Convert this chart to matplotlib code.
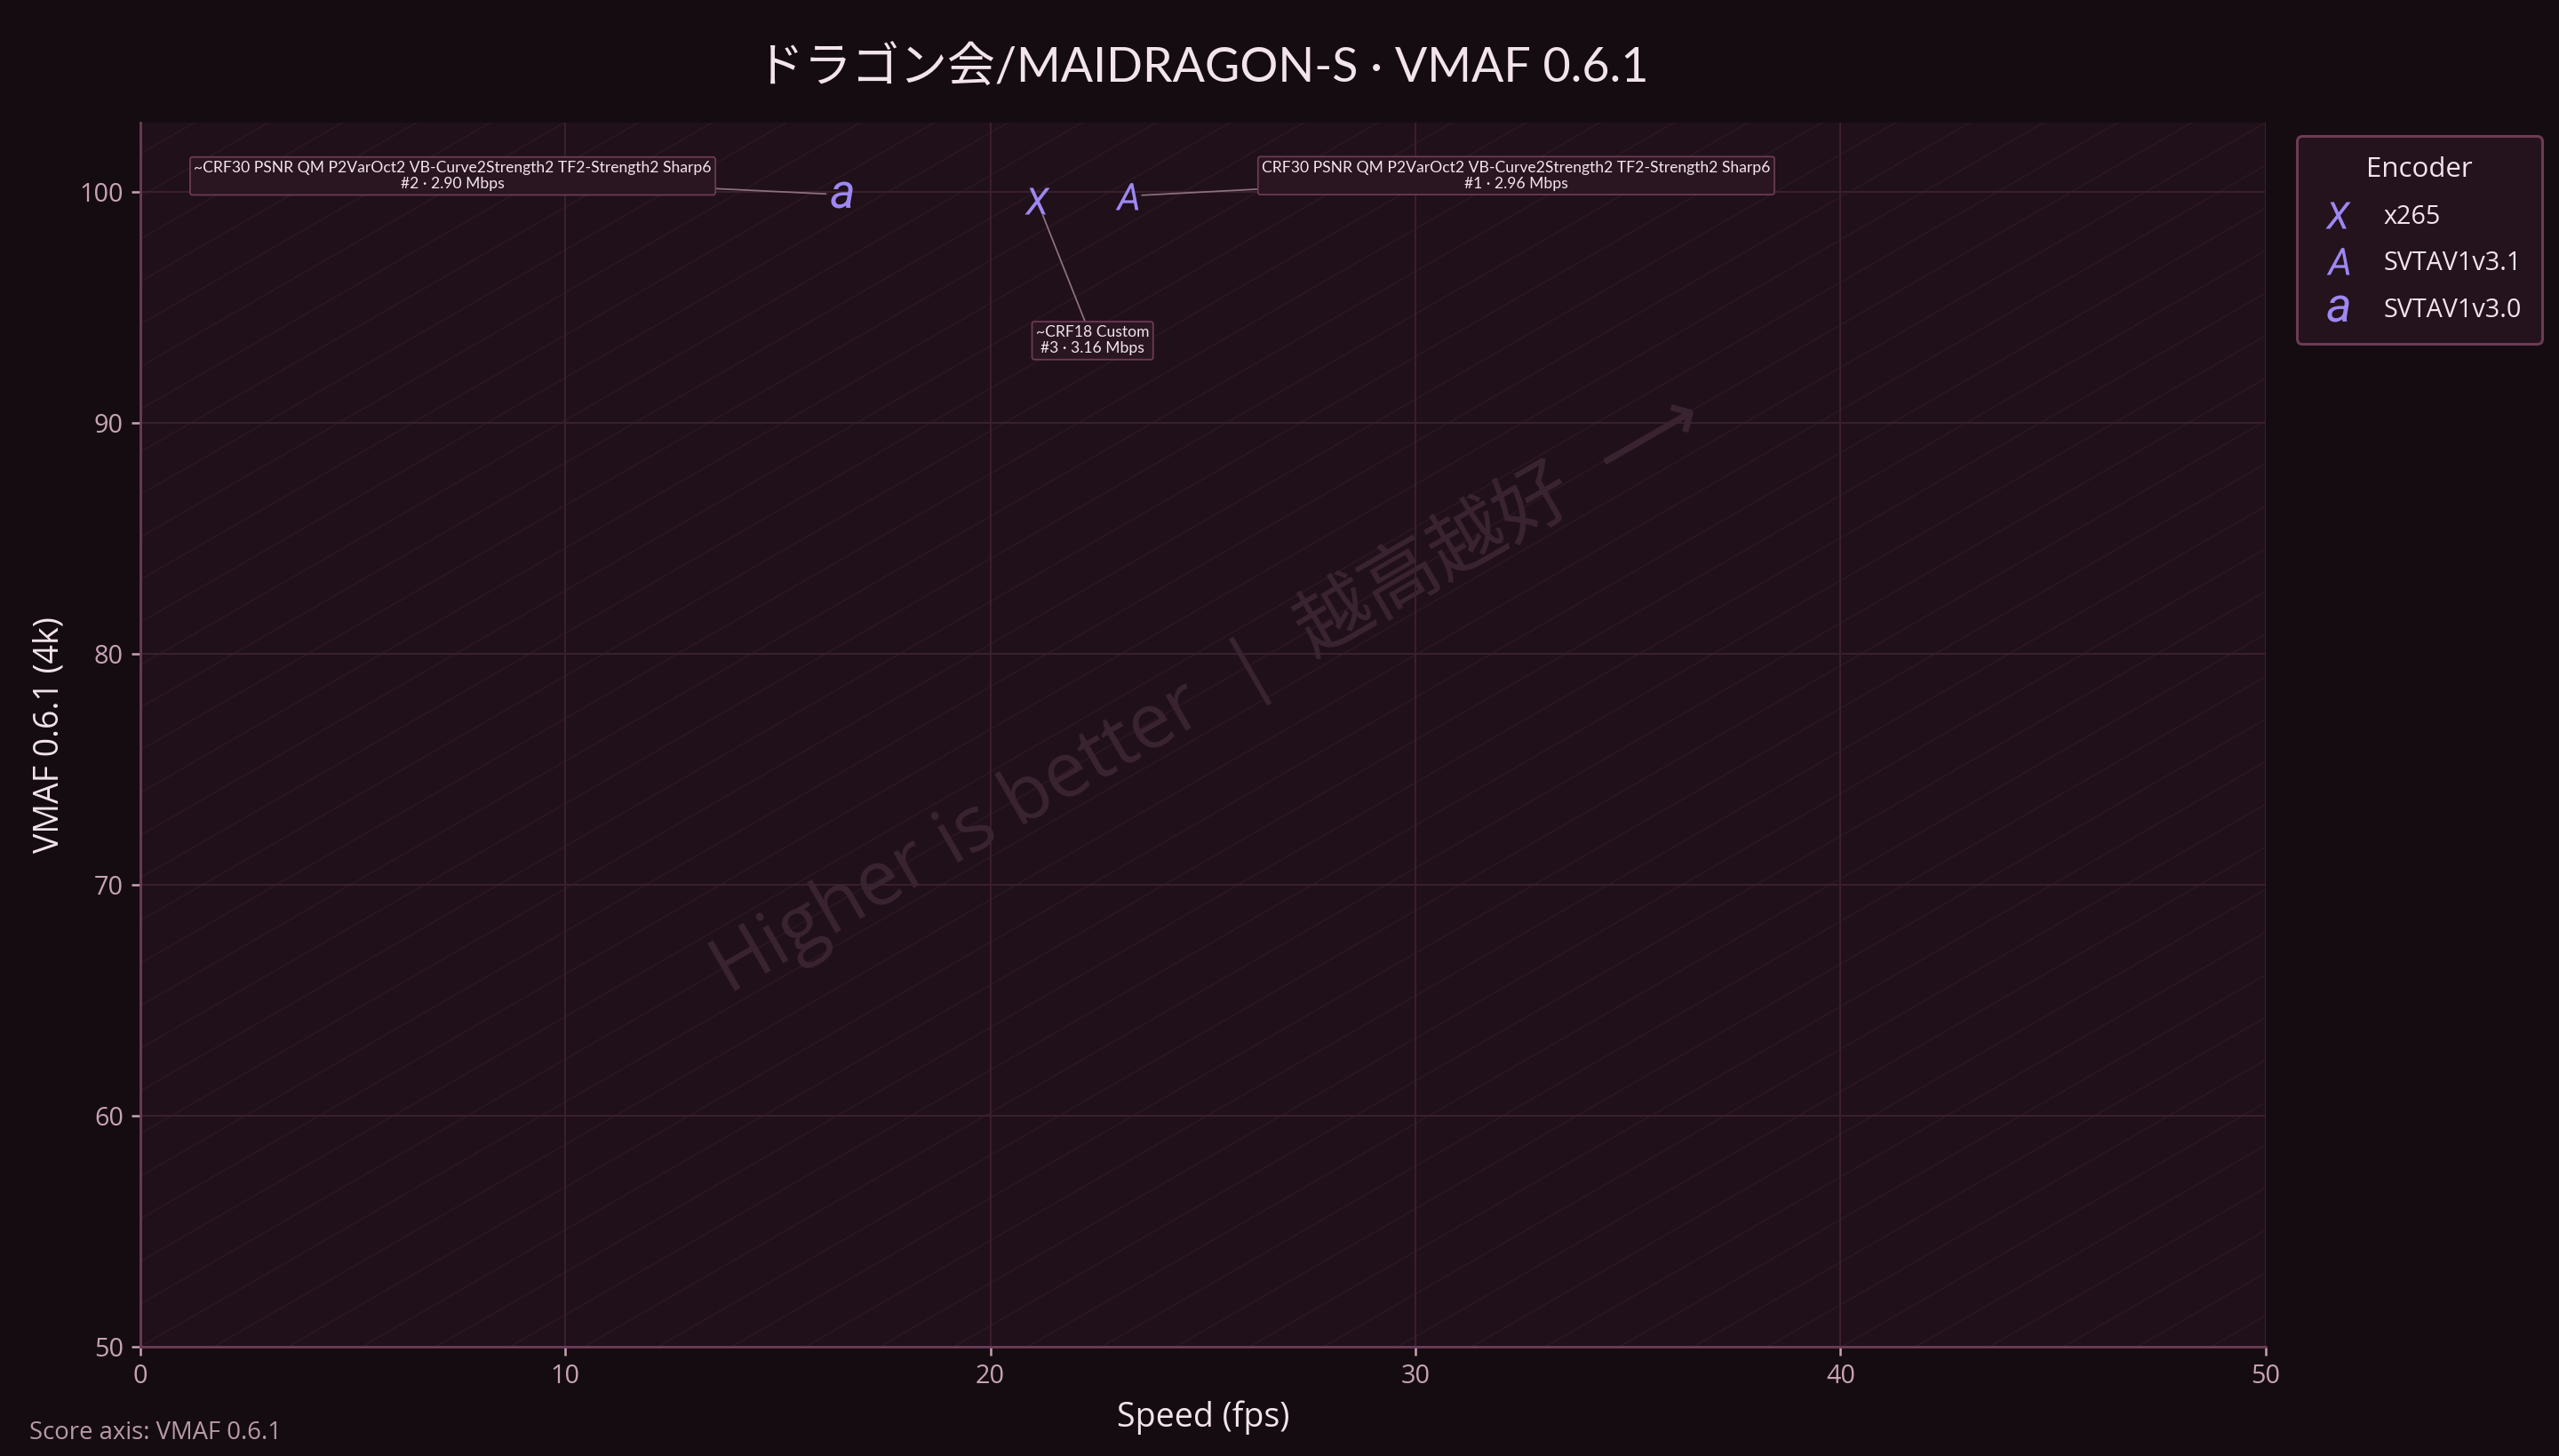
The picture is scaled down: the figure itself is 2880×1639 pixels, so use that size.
import numpy as np
import matplotlib.pyplot as plt

# data
encoders = ['x265', 'SVTAV1v3.1', 'SVTAV1v3.0']
marker_glyphs = ['$X$', '$A$', '$a$']
speed_fps = [21.1, 23.2, 16.5]
vmaf_4k = [99.62, 99.82, 99.88]
presets = ['~CRF18 Custom',
           'CRF30 PSNR QM P2VarOct2 VB-Curve2Strength2 TF2-Strength2 Sharp6',
           '~CRF30 PSNR QM P2VarOct2 VB-Curve2Strength2 TF2-Strength2 Sharp6']
ranks = [3, 1, 2]
bitrate_mbps = [3.16, 2.96, 2.90]
x_ticks = [0, 10, 20, 30, 40, 50]
y_ticks = [50, 60, 70, 80, 90, 100]

# where each label box sits, in points from its point
label_offsets = [(25, -63), (175.5, 9.2), (-175, 8.4)]

BG = '#150c11'
AX_BG = '#201019'
MARK = '#9d88f2'
TEXT = '#f3e4ec'
TICK = '#c7a3b4'
EDGE = '#6d3b55'

plt.rcParams['font.family'] = ['Open Sans', 'Noto Sans CJK JP', 'DejaVu Sans']
plt.rcParams['mathtext.fontset'] = 'custom'
plt.rcParams['mathtext.it'] = 'Roboto:italic'
narrow = ['Lato', 'Noto Sans CJK JP', 'DejaVu Sans']

fig = plt.figure(figsize=(16, 1639 / 180), dpi=180, facecolor=BG)
ax = fig.add_axes([0.0547, 0.0750, 0.8307, 0.8408])
ax.set_facecolor(AX_BG)

# faint diagonal hatching
for c in np.arange(-29, 30) * 0.0348:
    ax.plot([0, 1], [c, c + 1], transform=ax.transAxes, color='#2b1622',
            lw=0.7, zorder=0)

ax.grid(True, color='#3a1f2e', lw=0.8, zorder=0.5)
ax.set_axisbelow(True)

ax.text(0.502, 0.535, 'Higher is better  |  越高越好  ⟶', transform=ax.transAxes,
        rotation=30, ha='center', va='center', fontsize=34.5, color='#3a2431',
        family=['Open Sans', 'Noto Sans CJK SC', 'DejaVu Sans'], zorder=0.6)

for i in range(len(encoders)):
    ax.plot(speed_fps[i], vmaf_4k[i], linestyle='none', marker=marker_glyphs[i],
            markersize=12, markeredgewidth=0, color=MARK, label=encoders[i],
            zorder=3)
    ax.annotate(f'{presets[i]}\n#{ranks[i]} · {bitrate_mbps[i]:.2f} Mbps',
                xy=(speed_fps[i], vmaf_4k[i]), xytext=label_offsets[i],
                textcoords='offset points', ha='center', va='center',
                fontsize=7, color=TEXT, family=narrow, linespacing=1.15,
                bbox=dict(boxstyle='round,pad=0.25,rounding_size=0.15',
                          fc='#2a1621', ec=EDGE, lw=0.7),
                arrowprops=dict(arrowstyle='-', color='#8c7181', lw=0.7,
                                shrinkA=0, shrinkB=7), zorder=4)

ax.set_xlim(0, 50)
ax.set_ylim(50, 103)
ax.set_xticks(x_ticks)
ax.set_yticks(y_ticks)
ax.tick_params(colors=TICK, labelsize=11.5, length=4, width=1)
for s in ['top', 'right']:
    ax.spines[s].set_visible(False)
for s in ['left', 'bottom']:
    ax.spines[s].set_color(EDGE)
    ax.spines[s].set_linewidth(1.1)

ax.set_xlabel('Speed (fps)', fontsize=15, color=TEXT, labelpad=5)
ax.set_ylabel('VMAF 0.6.1 (4k)', fontsize=15, color=TEXT, labelpad=6)
ax.set_title('ドラゴン会/MAIDRAGON-S · VMAF 0.6.1', fontsize=21.5, color=TEXT,
             family=narrow, pad=18)

leg = ax.legend(title='Encoder', loc='upper left', bbox_to_anchor=(1.0146, 0.989),
                borderaxespad=0, fontsize=11.5, title_fontsize=12.5,
                labelspacing=0.82, borderpad=0.8, handletextpad=1.0,
                handlelength=1.6, facecolor='#24131c', edgecolor=EDGE,
                framealpha=1, fancybox=True)
leg.get_frame().set_linewidth(1.2)
leg.get_title().set_color(TEXT)
for t in leg.get_texts():
    t.set_color(TEXT)

fig.text(0.0115, 0.0116, 'Score axis: VMAF 0.6.1', fontsize=11, color='#b899a8')

fig.savefig('out.png', dpi=180, facecolor=BG)
